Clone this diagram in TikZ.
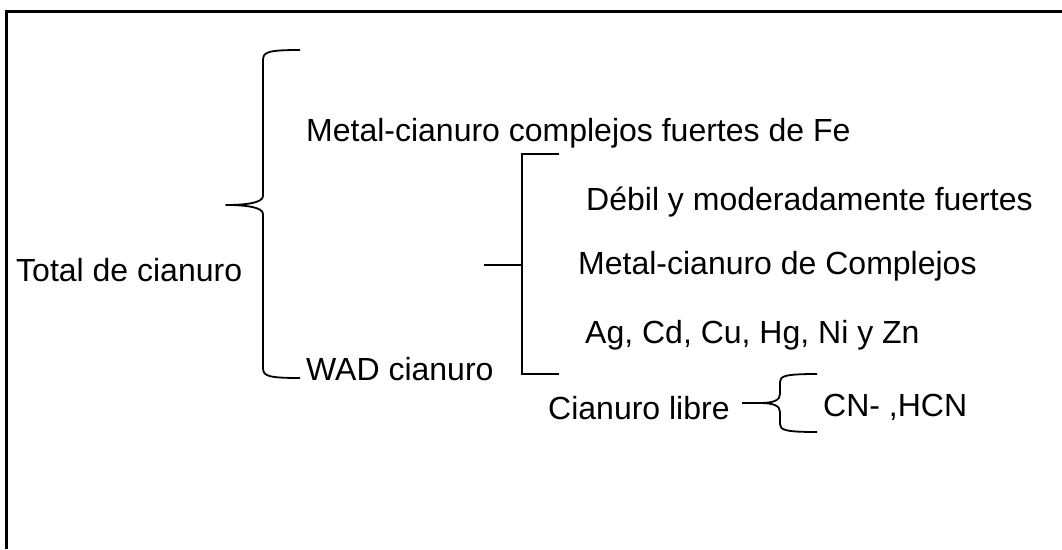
\documentclass[tikz,border=0pt]{standalone}
\usepackage{fontspec}
\setmainfont{Liberation Sans}
\begin{document}
\begin{tikzpicture}[x=1pt,y=-1pt,
  lbl/.style={anchor=west,inner sep=0pt,font=\fontsize{32}{38}\selectfont},
  brk/.style={line width=1.8pt,line join=round}]
\useasboundingbox (0,0) rectangle (1062,549);
% frame
\draw[line width=3pt] (6,549) -- (6,11) -- (1062,11);
% labels
\node[lbl] (total) at (16,270) {Total de cianuro};
\node[lbl] (fe) at (306,133) {Metal-cianuro complejos fuertes de Fe};
\node[lbl] (wad) at (306,369) {WAD cianuro};
\node[lbl] (debil) at (586,202) {Débil y moderadamente fuertes};
\node[lbl] (mcc) at (578,266) {Metal-cianuro de Complejos};
\node[lbl] (ag) at (585,335) {Ag, Cd, Cu, Hg, Ni y Zn};
\node[lbl] (libre) at (548,408) {Cianuro libre};
\node[lbl] (cn) at (823,407) {CN- ,HCN};
% big brace
\coordinate (b1) at (300,50);
\coordinate (b2) at (300,378);
\coordinate (btip) at (226,205);
\draw[brk] (b1) .. controls (268,50) and (263,52) .. (263,60) -- (263,196)
  .. controls (263,203) and (245,205) .. (btip)
  .. controls (245,205) and (263,207) .. (263,214) -- (263,368)
  .. controls (263,376) and (268,378) .. (b2);
% square bracket
\coordinate (s0) at (484,265);
\coordinate (s1) at (559,154);
\coordinate (s2) at (559,374);
\draw[brk] (s0) -- (522,265);
\draw[brk,line join=miter] (s1) -- (522,154) -- (522,374) -- (s2);
% small brace
\coordinate (c0) at (742,403);
\coordinate (c1) at (817,374);
\coordinate (c2) at (817,432);
\draw[brk] (c0) -- (760,403) .. controls (774,403) and (780,400) .. (780,394) -- (780,382)
  .. controls (780,376) and (785,374) .. (c1);
\draw[brk] (760,403) .. controls (774,403) and (780,406) .. (780,412) -- (780,424)
  .. controls (780,430) and (785,432) .. (c2);
\end{tikzpicture}
\end{document}
